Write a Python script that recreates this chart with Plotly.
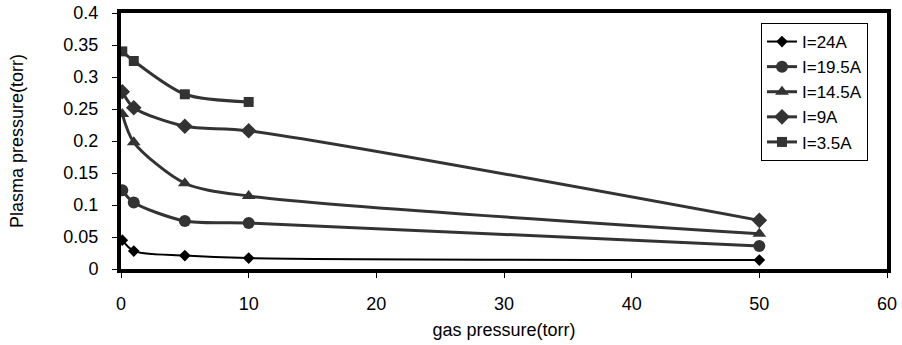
import plotly.graph_objects as go

gas_pressure = [0.1, 1, 5, 10, 50]
gas_pressure_short = [0.1, 1, 5, 10]
i24 = [0.045, 0.028, 0.021, 0.017, 0.014]
i19_5 = [0.123, 0.104, 0.075, 0.072, 0.036]
i14_5 = [0.242, 0.198, 0.134, 0.114, 0.055]
i9 = [0.277, 0.252, 0.223, 0.216, 0.076]
i3_5 = [0.340, 0.325, 0.273, 0.261]

series = [
    ("I=24A", gas_pressure, i24, "diamond", "#000000", 2, 9),
    ("I=19.5A", gas_pressure, i19_5, "circle", "#333333", 3, 12),
    ("I=14.5A", gas_pressure, i14_5, "triangle-up", "#333333", 3, 12),
    ("I=9A", gas_pressure, i9, "diamond", "#333333", 3, 12),
    ("I=3.5A", gas_pressure_short, i3_5, "square", "#333333", 3, 10),
]

fig = go.Figure()
for k, (name, xs, ys, sym, col, lw, ms) in enumerate(series):
    fig.add_trace(go.Scatter(
        x=xs, y=ys, name=name, mode="lines+markers", legendgroup=f"g{k}",
        line=dict(color=col, width=lw, shape="spline", smoothing=0.8),
        marker=dict(symbol=sym, size=ms, color=col),
    ))

fam = "Liberation Sans, Arial, sans-serif"
tickfont = dict(family=fam, size=18, color="#000000")
titlefont = dict(family=fam, size=18, color="#000000")
fig.update_layout(
    width=902, height=345,
    margin=dict(l=121, r=15, t=13, b=76),
    paper_bgcolor="white", plot_bgcolor="white",
    font=tickfont,
    showlegend=True,
    legend=dict(
        x=0.8355, y=0.961, xanchor="left", yanchor="top",
        bordercolor="#000000", borderwidth=1, bgcolor="white",
        font=dict(family=fam, size=17, color="#000000"),
        itemwidth=30, tracegroupgap=0,
    ),
    xaxis=dict(
        range=[0, 60], dtick=10, tick0=0,
        showgrid=False, zeroline=False, automargin=False,
        showline=True, linecolor="#000000", linewidth=4, mirror=True,
        ticks="outside", ticklen=5, tickcolor="#000000", tickwidth=1,
        ticklabelstandoff=10,
        title=dict(text="gas pressure(torr)", standoff=12, font=titlefont),
        tickfont=tickfont,
    ),
    yaxis=dict(
        range=[0, 0.4], dtick=0.05, tick0=0,
        showgrid=False, zeroline=False, automargin=False,
        showline=True, linecolor="#000000", linewidth=4, mirror=True,
        ticks="outside", ticklen=5, tickcolor="#000000", tickwidth=1,
        ticklabelstandoff=10,
        title=dict(text="Plasma pressure(torr)", standoff=36, font=titlefont),
        tickfont=tickfont,
    ),
)

fig.write_html("out.html", config={"displayModeBar": False},
               post_script="document.body.style.margin='0';")
